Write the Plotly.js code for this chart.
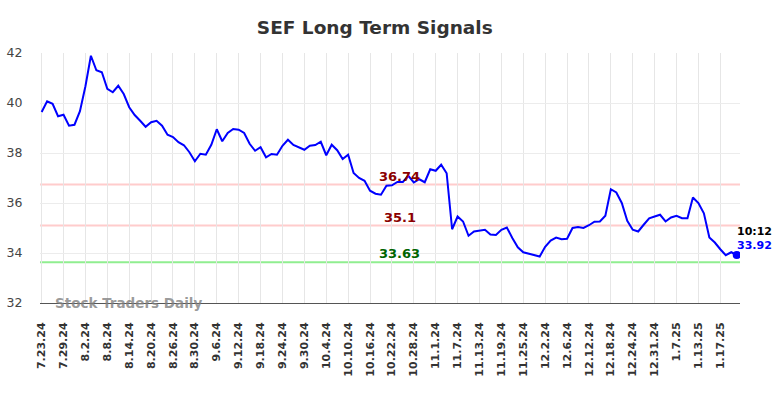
<!DOCTYPE html>
<html>
<head>
<meta charset="utf-8">
<script src="https://cdn.plot.ly/plotly-3.0.1.min.js"></script>
<style>html,body{margin:0;padding:0;background:#fff}#chart{width:784px;height:398px}</style>
</head>
<body>
<div id="chart"></div>
<script>
const dates = [
"7.23.24","7.24.24","7.25.24","7.26.24","7.29.24","7.30.24","7.31.24",
"8.1.24","8.2.24","8.5.24","8.6.24","8.7.24","8.8.24","8.9.24","8.12.24","8.13.24","8.14.24","8.15.24","8.16.24","8.19.24","8.20.24","8.21.24","8.22.24","8.23.24","8.26.24","8.27.24","8.28.24","8.29.24","8.30.24",
"9.3.24","9.4.24","9.5.24","9.6.24","9.9.24","9.10.24","9.11.24","9.12.24","9.13.24","9.16.24","9.17.24","9.18.24","9.19.24","9.20.24","9.23.24","9.24.24","9.25.24","9.26.24","9.27.24","9.30.24",
"10.1.24","10.2.24","10.3.24","10.4.24","10.7.24","10.8.24","10.9.24","10.10.24","10.11.24","10.14.24","10.15.24","10.16.24","10.17.24","10.18.24","10.21.24","10.22.24","10.23.24","10.24.24","10.25.24","10.28.24","10.29.24","10.30.24","10.31.24",
"11.1.24","11.4.24","11.5.24","11.6.24","11.7.24","11.8.24","11.11.24","11.12.24","11.13.24","11.14.24","11.15.24","11.18.24","11.19.24","11.20.24","11.21.24","11.22.24","11.25.24","11.26.24","11.27.24","11.29.24",
"12.2.24","12.3.24","12.4.24","12.5.24","12.6.24","12.9.24","12.10.24","12.11.24","12.12.24","12.13.24","12.16.24","12.17.24","12.18.24","12.19.24","12.20.24","12.23.24","12.24.24","12.26.24","12.27.24","12.30.24","12.31.24",
"1.2.25","1.3.25","1.6.25","1.7.25","1.8.25","1.9.25","1.10.25","1.13.25","1.14.25","1.15.25","1.16.25","1.17.25","1.21.25","1.22.25","1.23.25"
];
const prices = [
39.64,40.07,39.97,39.47,39.53,39.09,39.13,39.67,40.67,41.89,
41.31,41.23,40.57,40.43,40.69,40.36,39.83,39.52,39.29,39.05,
39.23,39.29,39.09,38.73,38.64,38.43,38.31,38.03,37.67,37.97,
37.93,38.33,38.95,38.47,38.80,38.96,38.93,38.80,38.37,38.09,
38.23,37.83,37.96,37.93,38.29,38.53,38.32,38.24,38.13,38.29,
38.32,38.45,37.91,38.33,38.11,37.76,37.93,37.20,37.00,36.89,
36.49,36.37,36.33,36.69,36.71,36.84,36.84,37.09,36.82,36.95,
36.83,37.35,37.29,37.53,37.19,34.95,35.46,35.26,34.69,34.86,
34.88,34.93,34.74,34.72,34.93,35.02,34.60,34.23,34.03,33.97,
33.92,33.86,34.25,34.50,34.62,34.55,34.57,35.00,35.04,35.00,
35.11,35.25,35.26,35.49,36.55,36.42,36.00,35.29,34.93,34.86,
35.13,35.39,35.46,35.53,35.26,35.42,35.49,35.39,35.39,36.22,
36.00,35.59,34.62,34.42,34.15,33.91,34.03,33.92
];
const tickLabels = ["7.23.24","7.29.24","8.2.24","8.8.24","8.14.24","8.20.24","8.26.24","8.30.24","9.6.24","9.12.24","9.18.24","9.24.24","9.30.24","10.4.24","10.10.24","10.16.24","10.22.24","10.28.24","11.1.24","11.7.24","11.13.24","11.19.24","11.25.24","12.2.24","12.6.24","12.12.24","12.18.24","12.24.24","12.31.24","1.7.25","1.13.25","1.17.25"];
const resistanceHigh = 36.74;
const resistanceLow = 35.1;
const support = 33.63;
const lastTime = "10:12";
const lastPrice = 33.92;
const yTicks = [32,34,36,38,40,42];

const F = "DejaVu Sans, sans-serif";
const lastDate = dates[dates.length-1];
const midX = 65.4;

const traces = [
  {x: dates, y: prices, type: 'scatter', mode: 'lines', line: {color: '#0000ff', width: 2}, hoverinfo: 'skip'},
  {x: [lastDate], y: [lastPrice], type: 'scatter', mode: 'markers', marker: {color: '#0000ff', size: 8}, hoverinfo: 'skip'}
];

function hline(v, color) {
  return {type: 'line', xref: 'paper', x0: 0, x1: 1, yref: 'y', y0: v, y1: v, line: {color: color, width: 2}, layer: 'below'};
}

const layout = {
  width: 784, height: 398,
  margin: {l: 40, r: 44, t: 53, b: 95},
  paper_bgcolor: '#ffffff', plot_bgcolor: '#ffffff',
  showlegend: false,
  title: {text: 'SEF Long Term Signals', font: {family: F, size: 18.5, color: '#333333', weight: 'bold'}, x: 0.478, xanchor: 'center', y: 0.932, yanchor: 'middle', yref: 'container'},
  xaxis: {
    type: 'category', categoryorder: 'array', categoryarray: dates,
    range: [-0.3, 127.6],
    tickmode: 'array', tickvals: tickLabels, ticktext: tickLabels,
    tickangle: -90, tickfont: {family: F, size: 11, color: '#333333', weight: 'bold'},
    showgrid: true, gridcolor: '#e6e6e6', gridwidth: 1,
    showline: true, linecolor: '#555555', linewidth: 1,
    ticks: 'outside', ticklen: 14, tickcolor: 'rgba(0,0,0,0)',
    zeroline: false, fixedrange: true
  },
  yaxis: {
    range: [32, 42], tickmode: 'array', tickvals: yTicks,
    tickfont: {family: F, size: 12.5, color: '#444444'},
    showgrid: true, gridcolor: '#ececec', gridwidth: 1,
    showline: false, zeroline: false,
    ticks: 'outside', ticklen: 14, tickcolor: 'rgba(0,0,0,0)', fixedrange: true
  },
  shapes: [hline(resistanceHigh, '#ffcccc'), hline(resistanceLow, '#ffcccc'), hline(support, '#90ee90')],
  annotations: [
    {x: midX, y: resistanceHigh, xref: 'x', yref: 'y', text: String(resistanceHigh), showarrow: false, yshift: 8.5, font: {family: F, size: 13, color: '#8b0000', weight: 'bold'}},
    {x: midX, y: resistanceLow, xref: 'x', yref: 'y', text: String(resistanceLow), showarrow: false, yshift: 8.5, font: {family: F, size: 13, color: '#8b0000', weight: 'bold'}},
    {x: midX, y: support, xref: 'x', yref: 'y', text: String(support), showarrow: false, yshift: 9, font: {family: F, size: 13, color: '#006400', weight: 'bold'}},
    {x: dates.length-1, y: lastPrice, xref: 'x', yref: 'y', text: lastTime, showarrow: false, xanchor: 'left', yanchor: 'middle', xshift: -2, yshift: 24, font: {family: F, size: 11, color: '#000000', weight: 'bold'}},
    {x: dates.length-1, y: lastPrice, xref: 'x', yref: 'y', text: lastPrice.toFixed(2), showarrow: false, xanchor: 'left', yanchor: 'middle', xshift: -2, yshift: 10, font: {family: F, size: 11, color: '#0000ff', weight: 'bold'}},
    {x: 0.0186, y: 32, xref: 'paper', yref: 'y', text: 'Stock Traders Daily', showarrow: false, xanchor: 'left', yanchor: 'middle', yshift: 0, font: {family: F, size: 13.5, color: 'rgba(128,128,128,0.8)', weight: 'bold'}}
  ]
};

Plotly.newPlot('chart', traces, layout, {staticPlot: true, displayModeBar: false});
</script>
</body>
</html>
